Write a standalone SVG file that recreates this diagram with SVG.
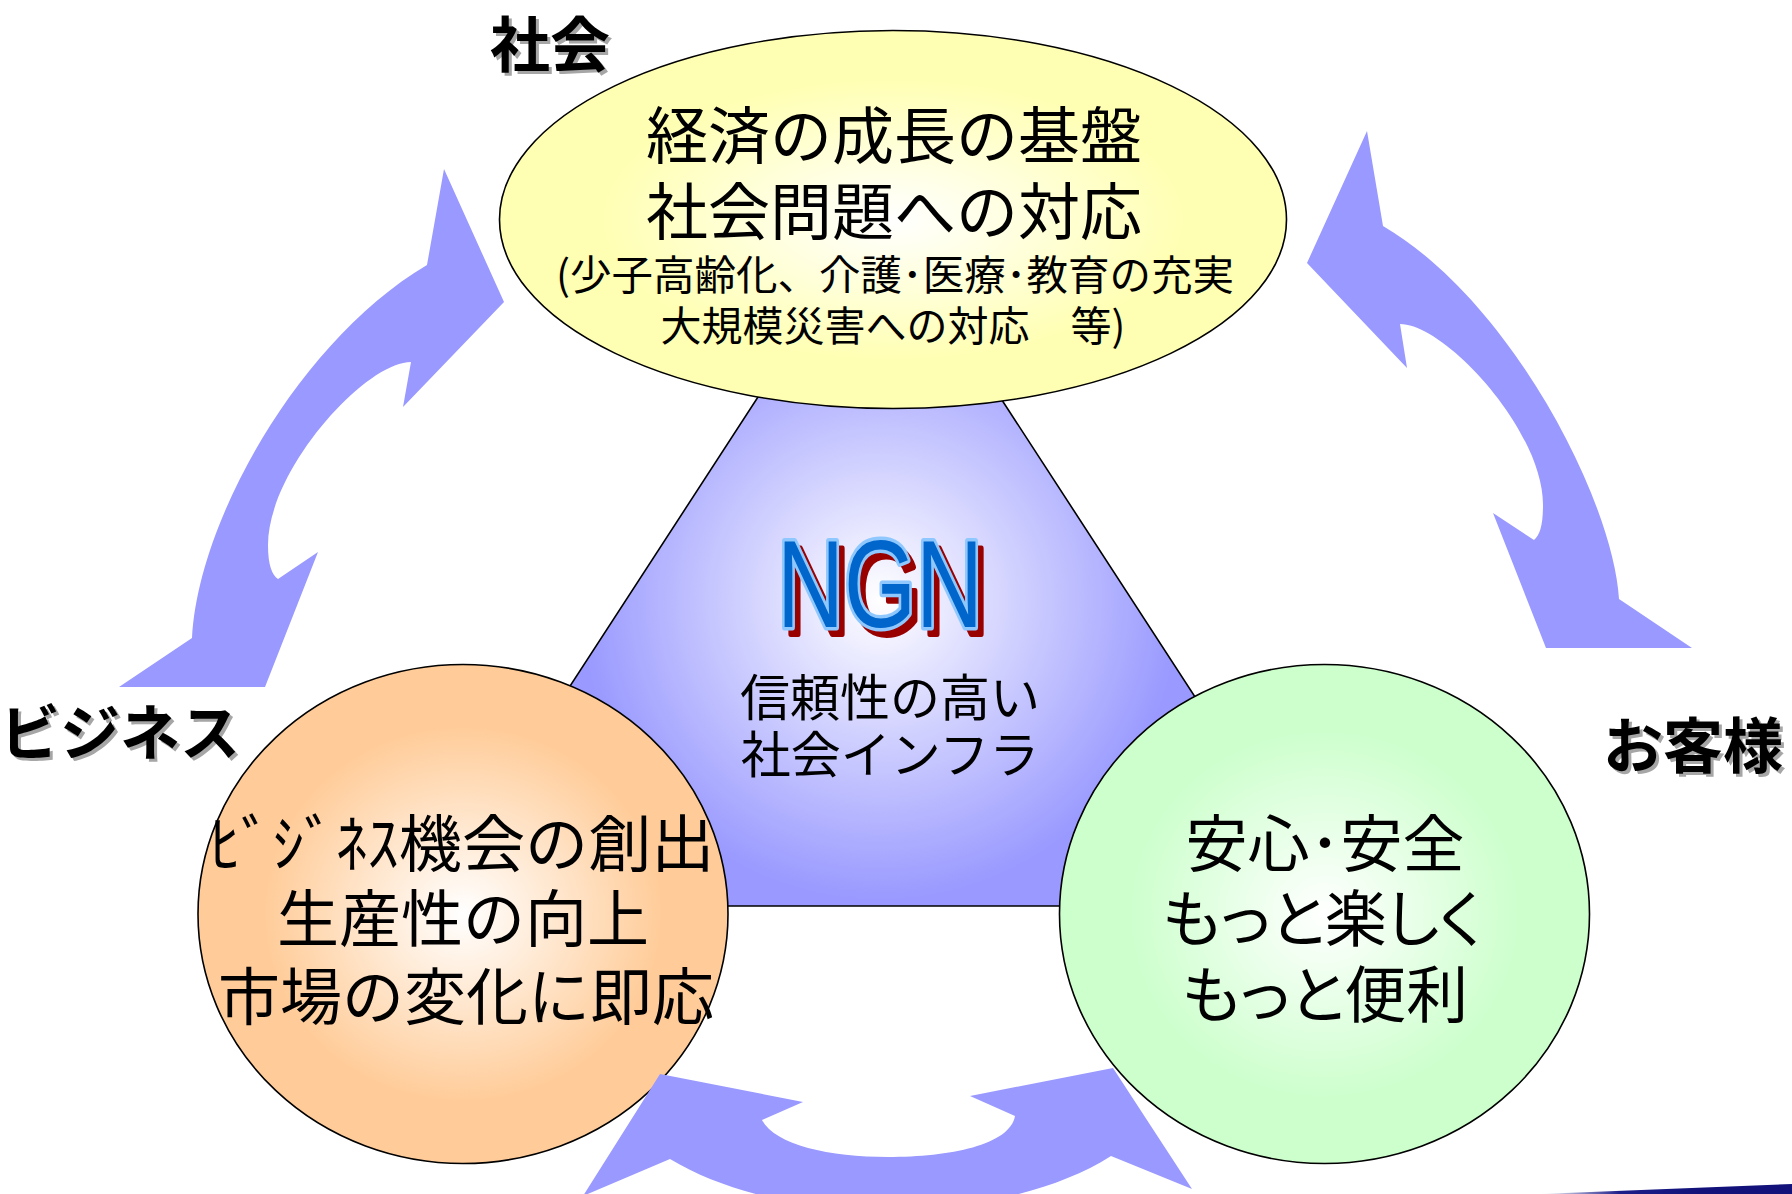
<svg xmlns="http://www.w3.org/2000/svg" width="1792" height="1194" viewBox="0 0 1792 1194">
<defs>
  <radialGradient id="gTri" gradientUnits="userSpaceOnUse" cx="880" cy="600" r="300">
    <stop offset="0" stop-color="#ffffff"/>
    <stop offset="1" stop-color="#9999ff"/>
  </radialGradient>
  <radialGradient id="gYel" cx="0.5" cy="0.5" r="0.5">
    <stop offset="0" stop-color="#ffffff"/>
    <stop offset="0.75" stop-color="#ffffb3"/>
    <stop offset="1" stop-color="#ffffb3"/>
  </radialGradient>
  <radialGradient id="gOra" cx="0.5" cy="0.5" r="0.5">
    <stop offset="0" stop-color="#ffffff"/>
    <stop offset="0.75" stop-color="#ffcc99"/>
    <stop offset="1" stop-color="#ffcc99"/>
  </radialGradient>
  <radialGradient id="gGrn" cx="0.5" cy="0.5" r="0.5">
    <stop offset="0" stop-color="#ffffff"/>
    <stop offset="0.75" stop-color="#ccffcc"/>
    <stop offset="1" stop-color="#ccffcc"/>
  </radialGradient>
  <linearGradient id="gNavy" gradientUnits="userSpaceOnUse" x1="1540" y1="0" x2="1700" y2="0">
    <stop offset="0" stop-color="#ffffff"/>
    <stop offset="0.5" stop-color="#1e1e8a"/>
    <stop offset="1" stop-color="#12127a"/>
  </linearGradient>
  <style>
    .jp { font-family: "Noto Sans CJK JP", "Noto Sans", sans-serif; fill: #000; }
    .big { font-size: 62px; }
    .mid { font-size: 41px; }
    .ngt { font-size: 50px; }
    .lab { font-size: 60px; font-weight: bold; }
    .shadow { fill: #a6a6a6; }
    .node { stroke: #000; stroke-width: 1.6; }
    .arrow { fill: #9999ff; stroke: none; }
    .palt { font-feature-settings: "palt"; }
    .ngn { font-family: "Liberation Sans", Arial, sans-serif; font-size: 124px; }
  </style>
</defs>
<rect width="1792" height="1194" fill="#ffffff"/>

<g id="triangle">
  <polygon class="node" points="879,211 427,906 1331,906" fill="url(#gTri)"/>
</g>

<g id="node-society">
  <ellipse class="node" cx="893" cy="219.5" rx="393.5" ry="189" fill="url(#gYel)"/>
  <text class="jp big" x="894" y="159" text-anchor="middle">経済の成長の基盤</text>
  <text class="jp big" x="894" y="235" text-anchor="middle">社会問題への対応</text>
  <text class="jp mid" x="895" y="290" text-anchor="middle" textLength="678" lengthAdjust="spacingAndGlyphs">(少子高齢化、介護･医療･教育の充実</text>
  <text class="jp mid" x="893" y="341" text-anchor="middle">大規模災害への対応　等)</text>
</g>

<g id="node-business">
  <ellipse class="node" cx="463" cy="914" rx="265" ry="249.5" fill="url(#gOra)"/>
  <text class="jp big" x="462" y="867" text-anchor="middle" textLength="505" lengthAdjust="spacingAndGlyphs">ﾋﾞｼﾞﾈｽ機会の創出</text>
  <text class="jp big" x="463" y="942" text-anchor="middle">生産性の向上</text>
  <text class="jp big" x="466" y="1020" text-anchor="middle">市場の変化に即応</text>
</g>

<g id="node-customer">
  <ellipse class="node" cx="1324.5" cy="914" rx="265" ry="249.5" fill="url(#gGrn)"/>
  <text class="jp big" x="1325" y="867" text-anchor="middle">安心･安全</text>
  <text class="jp big palt" x="1322" y="942" text-anchor="middle">もっと楽しく</text>
  <text class="jp big palt" x="1325" y="1018" text-anchor="middle">もっと便利</text>
</g>

<g id="node-ngn">
  <text class="ngn" x="886" y="634" text-anchor="middle" textLength="206" lengthAdjust="spacingAndGlyphs" fill="#990000" stroke="#990000" stroke-width="6" stroke-linejoin="round">NGN</text>
  <text class="ngn" x="880" y="627" text-anchor="middle" textLength="206" lengthAdjust="spacingAndGlyphs" fill="#0066cc" stroke="#8fc8ff" stroke-width="7" stroke-linejoin="round" paint-order="stroke">NGN</text>
  <text class="jp ngt" x="890" y="716" text-anchor="middle">信頼性の高い</text>
  <text class="jp ngt" x="890" y="773" text-anchor="middle">社会インフラ</text>
</g>

<g id="connectors">
  <path class="arrow" d="M444,169 L504,302 L403,407 L411,362 C365,362 268,470 268,545 C268,565 272,575 278,579 L318,552 L265,687 L119,687 L192,638 C198,520 300,340 427,265 Z"/>
  <path class="arrow" d="M1367,131 L1307,263 L1407,368 L1400,324 C1445,324 1543,430 1543,505 C1543,525 1540,535 1534,540 L1493,513 L1546,648 L1692,648 L1619,599 C1613,500 1510,300 1383,226 Z"/>
  <path class="arrow" d="M660,1074 L803,1102 L762,1120 C775,1145 830,1157 888,1157 C950,1157 1010,1145 1015,1116 L970,1096 L1113,1068 L1192,1189 L1111,1156 C1050,1195 960,1210 888,1210 C810,1210 730,1195 670,1159 L583,1196 Z"/>
</g>

<g id="label-society">
  <text class="jp lab shadow" x="553" y="70" text-anchor="middle">社会</text>
  <text class="jp lab" x="550" y="67" text-anchor="middle">社会</text>
</g>
<g id="label-business">
  <text class="jp lab shadow" x="123" y="758" text-anchor="middle">ビジネス</text>
  <text class="jp lab" x="120" y="755" text-anchor="middle">ビジネス</text>
</g>
<g id="label-customer">
  <text class="jp lab shadow" x="1696" y="771" text-anchor="middle">お客様</text>
  <text class="jp lab" x="1693" y="768" text-anchor="middle">お客様</text>
</g>

<polygon points="1540,1194 1792,1184 1792,1194" fill="url(#gNavy)"/>
</svg>
